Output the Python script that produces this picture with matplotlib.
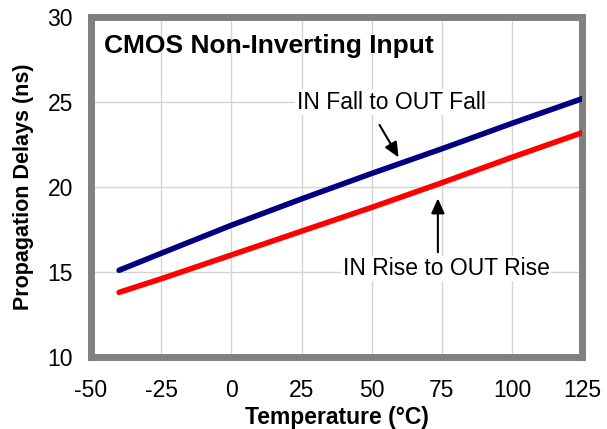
import numpy as np
import matplotlib
matplotlib.use("Agg")
import matplotlib.pyplot as plt

plt.rcParams['font.family'] = ['Liberation Sans', 'DejaVu Sans']
plt.rcParams['axes.unicode_minus'] = False

temp = [-40, -25, 0, 25, 50, 75, 100, 125]
fall = [15.1, 16.1, 17.75, 19.3, 20.8, 22.25, 23.75, 25.2]
rise = [13.8, 14.6, 16.0, 17.4, 18.8, 20.25, 21.75, 23.2]

xticks = [-50, -25, 0, 25, 50, 75, 100, 125]
yticks = [10, 15, 20, 25, 30]

fig = plt.figure(figsize=(6.07, 4.29), dpi=100)
ax = fig.add_axes([0.15, 0.168, 0.809, 0.792])

ax.plot(temp, fall, color='#000080', lw=4, solid_capstyle='round', zorder=3)
ax.plot(temp, rise, color='#ff0000', lw=4, solid_capstyle='round', zorder=3)

ax.set_xlim(-50, 125)
ax.set_ylim(10, 30)
ax.set_xticks(xticks)
ax.set_yticks(yticks)
ax.grid(True, color='#d4d4d4', lw=1)
ax.set_axisbelow(True)
ax.tick_params(length=0, labelsize=16.5)
ax.tick_params(axis='x', pad=16)
ax.tick_params(axis='y', pad=13)
for s in ax.spines.values():
    s.set_color('#808080')
    s.set_linewidth(5)

ax.set_xlabel('Temperature (°C)', fontsize=16.5, fontweight='bold', labelpad=3)
ax.set_ylabel('Propagation Delays (ns)', fontsize=15.5, fontweight='bold', labelpad=10)

ax.text(0.026, 0.915, 'CMOS Non-Inverting Input', transform=ax.transAxes,
        fontsize=19, fontweight='bold', va='center', ha='left')

box = dict(facecolor='white', edgecolor='none', pad=1)
ax.annotate('', xy=(60.1, 21.6), xytext=(52.3, 23.8),
            arrowprops=dict(arrowstyle='-|>,head_width=0.4,head_length=0.9', color='black', lw=1.5))
ax.text(56.9, 25.0, 'IN Fall to OUT Fall', fontsize=16.5, ha='center', va='center', bbox=box)
ax.annotate('', xy=(73.6, 19.5), xytext=(73.6, 16.0),
            arrowprops=dict(arrowstyle='-|>,head_width=0.4,head_length=0.9', color='black', lw=1.5))
ax.text(76.6, 15.2, 'IN Rise to OUT Rise', fontsize=16.5, ha='center', va='center', bbox=box)

fig.savefig('out.png', dpi=100)
